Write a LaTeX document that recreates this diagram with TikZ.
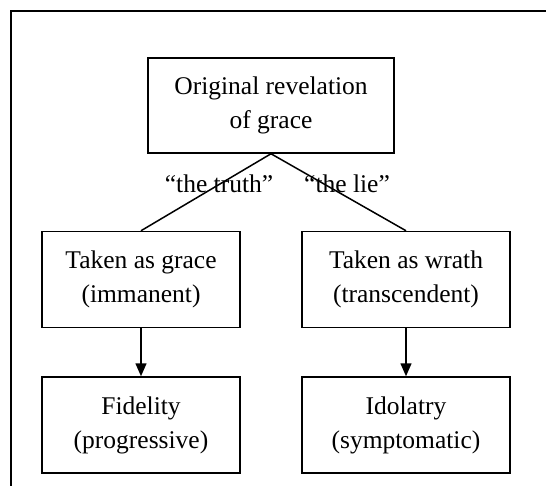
\documentclass[tikz,border=0pt]{standalone}
\usepackage{fontspec}
\setmainfont{Liberation Serif}
\usepackage{tikz}
\usetikzlibrary{arrows.meta, positioning}

\begin{document}
\begin{tikzpicture}[>={Triangle[width=11pt,length=13pt]}, line width=1.5pt, node distance=48pt]
        \tikzstyle{box}=[draw=black, rectangle, align=center, minimum height=96pt, inner sep=4pt,
                         font=\fontsize{25.5}{34}\selectfont]
        \tikzstyle{tag}=[font=\fontsize{25.5}{34}\selectfont]
        \useasboundingbox (0pt,0pt) rectangle (546pt,-485pt);
        % open frame round the picture
        \coordinate (fb) at (11pt,-487pt);
        \coordinate (ft) at (11pt,-11pt);
        \coordinate (fr) at (547pt,-11pt);
        \draw (fb) -- (ft) -- (fr);
        \node[box, minimum width=246pt, minimum height=95pt] (orig) at (271pt,-105.5pt) {Original revelation\\of grace};
        \node[box, minimum width=198pt] (grace)[below=77pt of orig, xshift=-130pt] {Taken as grace\\(immanent)};
        \node[box, minimum width=208pt] (wrath)[below=77pt of orig, xshift=135pt]  {Taken as wrath\\(transcendent)};
        \node[box, minimum width=198pt] (fid)[below=48pt of grace] {Fidelity\\(progressive)};
        \node[box, minimum width=208pt] (idol)[below=48pt of wrath] {Idolatry\\(symptomatic)};
        \draw (orig.south) -- (grace.north);
        \draw (orig.south) -- (wrath.north);
        \node[tag] (truth) at ([xshift=-52pt, yshift=-30pt]orig.south) {“the truth”};
        \node[tag] (lie) at ([xshift=76pt, yshift=-30pt]orig.south) {“the lie”};
        \draw[->] (grace) -- (fid);
        \draw[->] (wrath) -- (idol);
\end{tikzpicture}
\end{document}
